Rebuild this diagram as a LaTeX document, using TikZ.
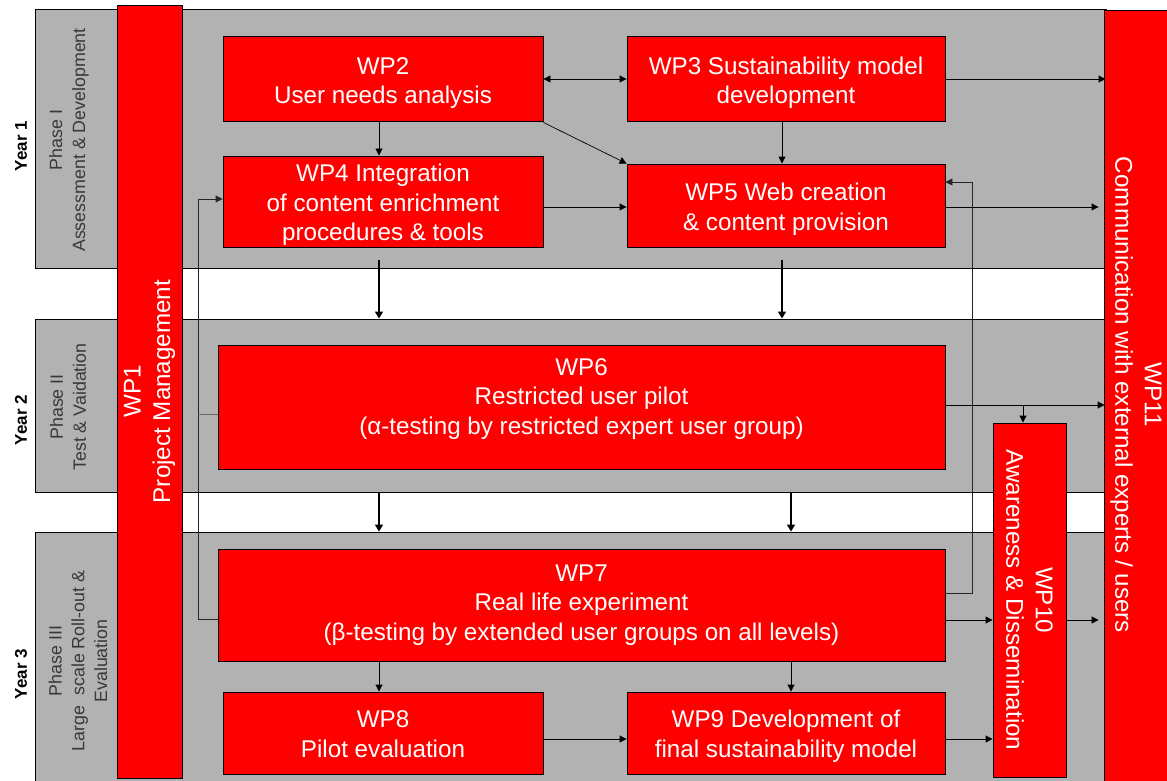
\documentclass[tikz,border=0pt]{standalone}
\usepackage{fontspec}
\setmainfont{Liberation Sans}
\usetikzlibrary{arrows.meta,calc}
\definecolor{bandgray}{RGB}{178,178,178}
\definecolor{wpred}{RGB}{255,0,0}
\newcommand\wpfont{\fontsize{24.2}{29.5}\selectfont}
\newcommand\phfont{\fontsize{17.8}{22.8}\selectfont}
\newcommand\wpt[2]{\raisebox{#1}[\height][\depth]{\begin{tabular}{@{}c@{}}#2\end{tabular}}}
\tikzset{
  band/.style={draw=black, fill=bandgray, line width=0.9pt, inner sep=0pt},
  wpbox/.style={draw=black, fill=wpred, line width=0.9pt, inner sep=0pt, text=white, align=center, font=\wpfont},
  wptext/.style={text=white, align=center, font=\wpfont, inner sep=0pt},
  phase/.style={rotate=90, align=center, text=black!78, font=\phfont, inner sep=0pt},
  year/.style={rotate=90, font=\bfseries\fontsize{17}{20}\selectfont, inner sep=0pt},
  arr/.style={-{Triangle[length=7pt,width=7pt]}, line width=0.9pt},
  darr/.style={{Triangle[length=7pt,width=7pt]}-{Triangle[length=7pt,width=7pt]}, line width=0.9pt},
  bigarr/.style={-{Triangle[length=7pt,width=8pt]}, line width=1.4pt},
  fb/.style={line width=0.9pt, draw=black!85},
}
\begin{document}
\begin{tikzpicture}[x=1pt,y=-1pt]
\useasboundingbox (0,0) rectangle (1167,781);
\fill[white] (0,0) rectangle (1167,781);

% bands
\node[band, minimum width=1071pt, minimum height=259pt] (band1) at (570.5,138.5) {};
\node[band, minimum width=1071pt, minimum height=173pt] (band2) at (570.5,405.5) {};
\node[band, minimum width=1071pt, minimum height=263pt] (band3) at (570.5,663.5) {};

% year labels
\node[year] (y1) at (21,146) {Year 1};
\node[year] (y2) at (21,420) {Year 2};
\node[year] (y3) at (21,674) {Year 3};

% phase labels
\node[phase] (ph1) at (69,140) {Phase I\\Assessment \& Development};
\node[phase] (ph2) at (68,407) {Phase II\\Test \& Vaidation};
\node[phase] (ph3) at (78,661) {Phase III\\Large\ \ scale Roll-out \&\\Evaluation};

% side bars
\node[wpbox, rotate=90, minimum width=773pt, minimum height=65pt] (wp1) at (149.5,391.5) {WP1\\Project Management};
\node[wpbox, minimum width=64pt, minimum height=790pt] (wp11) at (1136,405) {};
\node[wptext, rotate=-90] (wp11t) at (1136,395) {WP11\\Communication with external experts / users};

% work package boxes
\node[wpbox, minimum width=320pt, minimum height=85pt] (wp2) at (383,78.5) {\wpt{-4.5pt}{WP2\\User needs analysis}};
\node[wpbox, minimum width=318pt, minimum height=85pt] (wp3) at (786,78.5) {\wpt{-4.5pt}{WP3 Sustainability model\\development}};
\node[wpbox, minimum width=320pt, minimum height=91pt] (wp4) at (383,201.5) {\wpt{-4pt}{WP4 Integration\\of content enrichment\\procedures \& tools}};
\node[wpbox, minimum width=318pt, minimum height=83pt] (wp5) at (786,205.5) {\wpt{-4pt}{WP5 Web creation\\\& content provision}};
\node[wpbox, minimum width=727pt, minimum height=124pt] (wp6) at (581.5,407) {\wpt{8pt}{WP6\\Restricted user pilot\\(α-testing by restricted expert user group)}};
\node[wpbox, minimum width=727pt, minimum height=112pt] (wp7) at (581.5,605) {\wpt{0pt}{WP7\\Real life experiment\\(β-testing by extended user groups on all levels)}};
\node[wpbox, minimum width=320pt, minimum height=82pt] (wp8) at (383,733) {\wpt{-3.5pt}{WP8\\Pilot evaluation}};
\node[wpbox, minimum width=318pt, minimum height=82pt] (wp9) at (786,733) {\wpt{-3.5pt}{WP9 Development of\\final sustainability model}};
\node[wpbox, rotate=-90, minimum width=354pt, minimum height=73pt] (wp10) at (1029.5,600) {WP10\\Awareness \& Dissemination};

% helper coordinates
\coordinate (cA) at (379,0);
\coordinate (cB) at (782,0);
\coordinate (cC) at (791,0);
\coordinate (r79) at (0,79);
\coordinate (r207) at (0,207);
\coordinate (r405) at (0,405);
\coordinate (r620) at (0,620);
\coordinate (r739) at (0,739);
\coordinate (fbR) at (972,593);
\coordinate (fbRt) at (972,182);
\coordinate (fbL) at (198,619);
\coordinate (fbLt) at (198,199);
\coordinate (br) at (1023,405);

% phase I arrows
\draw[darr] (wp2.east |- r79) -- (wp3.west |- r79);
\draw[arr] (wp3.east |- r79) -- ([xshift=2pt]wp11.west |- r79);
\draw[arr] (wp2.south -| cA) -- (wp4.north -| cA);
\draw[arr] (wp3.south -| cB) -- (wp5.north -| cB);
\draw[arr, line width=0.7pt] ([yshift=-1pt]wp2.south east) -- (wp5.north west);
\draw[arr] (wp4.east |- r207) -- (wp5.west |- r207);
\draw[arr] (wp5.east |- r207) -- ([xshift=-5pt]wp11.west |- r207);

% between bands
\draw[bigarr] ([yshift=-13pt]wp4.south -| cA) -- (band2.north -| cA);
\draw[bigarr] ([yshift=-13pt]wp5.south -| cB) -- (band2.north -| cB);
\draw[bigarr] (band2.south -| cA) -- (band3.north -| cA);
\draw[bigarr] (band2.south -| cC) -- (band3.north -| cC);

% phase II / III arrows
\draw[arr] (wp6.east |- r405) -- ([xshift=1pt]wp11.west |- r405);
\draw[arr] (br) -- (wp10.west -| br);
\draw[arr] (wp7.south -| cA) -- (wp8.north -| cA);
\draw[arr] (wp7.south -| cC) -- (wp9.north -| cC);
\draw[arr] (wp7.east |- r620) -- (wp10.south |- r620);
\draw[arr] (wp10.north |- r620) -- ([xshift=-5pt]wp11.west |- r620);
\draw[arr] (wp8.east |- r739) -- (wp9.west |- r739);
\draw[arr] (wp9.east |- r739) -- (wp10.south |- r739);

% feedback loops
\draw[fb, arr] (wp7.east |- fbR) -- (fbR) -- (fbRt) -- (wp5.east |- fbRt);
\draw[fb, arr] (wp7.west |- fbL) -- (fbL) -- (fbLt) -- (wp4.west |- fbLt);
\draw[draw=black!60, line width=0.6pt] (198,414) -- (wp6.west |- 0,414);
\end{tikzpicture}
\end{document}
